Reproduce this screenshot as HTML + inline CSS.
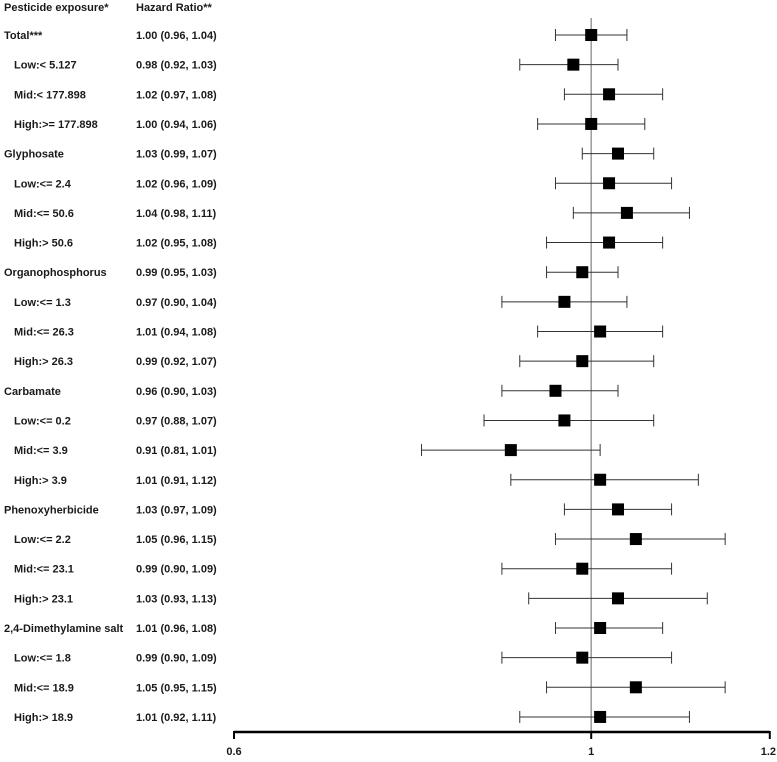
<!DOCTYPE html>
<html><head><meta charset="utf-8"><style>
body{margin:0;background:#fff;}
svg text{font-family:"Liberation Sans",Arial,sans-serif;font-weight:bold;font-size:11px;fill:#1a1a1a;}
</style></head><body>
<svg id="c" width="777" height="757"></svg>
<script>
const labels=["Total***","Low:< 5.127","Mid:< 177.898","High:>= 177.898","Glyphosate","Low:<= 2.4","Mid:<= 50.6","High:> 50.6","Organophosphorus","Low:<= 1.3","Mid:<= 26.3","High:> 26.3","Carbamate","Low:<= 0.2","Mid:<= 3.9","High:> 3.9","Phenoxyherbicide","Low:<= 2.2","Mid:<= 23.1","High:> 23.1","2,4-Dimethylamine salt","Low:<= 1.8","Mid:<= 18.9","High:> 18.9"];
const hr=[1.00,0.98,1.02,1.00,1.03,1.02,1.04,1.02,0.99,0.97,1.01,0.99,0.96,0.97,0.91,1.01,1.03,1.05,0.99,1.03,1.01,0.99,1.05,1.01];
const lo=[0.96,0.92,0.97,0.94,0.99,0.96,0.98,0.95,0.95,0.90,0.94,0.92,0.90,0.88,0.81,0.91,0.97,0.96,0.90,0.93,0.96,0.90,0.95,0.92];
const hi=[1.04,1.03,1.08,1.06,1.07,1.09,1.11,1.08,1.03,1.04,1.08,1.07,1.03,1.07,1.01,1.12,1.09,1.15,1.09,1.13,1.08,1.09,1.15,1.11];
const ticks=[0.6,1,1.2];
const svg=document.getElementById('c');const NS='http://www.w3.org/2000/svg';
const x=v=>234+(v-0.6)*893;
const y=i=>35+i*29.65;
function mk(t,a,p){const e=document.createElementNS(NS,t);for(const k in a)e.setAttribute(k,a[k]);(p||svg).appendChild(e);return e;}
let h=mk('text',{x:4,y:11});h.textContent='Pesticide exposure*';


h=mk('text',{x:136,y:11});h.textContent='Hazard Ratio**';


let ref=mk('line',{x1:x(1),x2:x(1),y1:18,y2:732,stroke:'#999','stroke-width':1.5});


labels.forEach((l,i)=>{
  const sub=l.startsWith('Low')||l.startsWith('Mid')||l.startsWith('High');
  const t=mk('text',{x:sub?14:4,y:y(i)+4});t.textContent=l;
  
  
  const v=mk('text',{x:136,y:y(i)+4});v.textContent=hr[i].toFixed(2)+' ('+lo[i].toFixed(2)+', '+hi[i].toFixed(2)+')';
  
  
  const g=mk('g',{stroke:'#333','stroke-width':1});
  
  
  mk('line',{x1:x(lo[i]),x2:x(hi[i]),y1:y(i),y2:y(i)},g);
  mk('line',{x1:x(lo[i]),x2:x(lo[i]),y1:y(i)-6,y2:y(i)+6},g);
  mk('line',{x1:x(hi[i]),x2:x(hi[i]),y1:y(i)-6,y2:y(i)+6},g);
  const s=mk('rect',{x:x(hr[i])-6,y:y(i)-6,width:12,height:12,fill:'#000'});
  
  
});
const ax=mk('line',{x1:x(0.6),x2:x(1.2),y1:732,y2:732,stroke:'#000','stroke-width':2.5});


ticks.forEach((tv,k)=>{
  const tk=mk('line',{x1:x(tv),x2:x(tv),y1:731,y2:739,stroke:'#000','stroke-width':2});
  
  
  const last=k===ticks.length-1;
  const tl=mk('text',{x:last?776:x(tv),y:755,'text-anchor':last?'end':'middle'});tl.textContent=String(tv);
  
  
});
</script>
</body></html>
